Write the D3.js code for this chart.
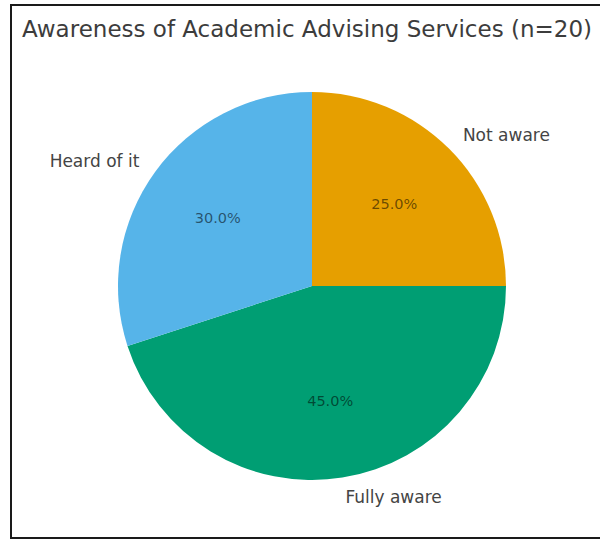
<!DOCTYPE html>
<html>
<head>
<meta charset="utf-8">
<script src="https://cdn.jsdelivr.net/npm/d3@7"></script>
<style>
  html, body { margin: 0; padding: 0; background: #fff; }
  svg { display: block; }
</style>
</head>
<body>
<svg id="chart" width="600" height="540"></svg>
<script>
// Survey responses on awareness of academic advising (n = 20)
const categories = ["Not aware", "Fully aware", "Heard of it"];
const counts = [5, 9, 6];
const colors = ["#E69F00", "#009E73", "#56B4E9"];
const titleText = "Awareness of Academic Advising Services (n=20)";

const svg = d3.select("#chart");
const W = 600, H = 540;
const cx = 312, cy = 286, r = 194;

svg.append("rect").attr("width", W).attr("height", H).attr("fill", "#fff");

// outer frame
svg.append("rect")
  .attr("x", 11).attr("y", 5)
  .attr("width", 620).attr("height", 533)
  .attr("fill", "none").attr("stroke", "#1a1a1a").attr("stroke-width", 2);

svg.append("text")
  .attr("x", 22).attr("y", 37)
  .attr("font-family", "DejaVu Sans, sans-serif")
  .attr("font-size", 23)
  .attr("fill", "#3c3c3c")
  .text(titleText);

const total = d3.sum(counts);
const data = categories.map((c, i) => ({ cat: c, value: counts[i], color: colors[i] }));

// clockwise from 12 o'clock, in the given order
const pie = d3.pie().value(d => d.value).sort(null);
const arcs = pie(data);
const arc = d3.arc().innerRadius(0).outerRadius(r);

const g = svg.append("g").attr("transform", `translate(${cx},${cy})`);

g.selectAll("path.slice")
  .data(arcs)
  .join("path")
  .attr("class", "slice")
  .attr("d", arc)
  .attr("fill", d => d.data.color);

const mid = d => (d.startAngle + d.endAngle) / 2;

// percentage labels inside slices
g.selectAll("text.pct")
  .data(arcs)
  .join("text")
  .attr("class", "pct")
  .attr("x", d => Math.sin(mid(d)) * r * 0.6)
  .attr("y", d => -Math.cos(mid(d)) * r * 0.6)
  .attr("text-anchor", "middle")
  .attr("dominant-baseline", "central")
  .attr("font-family", "DejaVu Sans, sans-serif")
  .attr("font-size", 14.5)
  .attr("fill", "#000")
  .attr("fill-opacity", 0.55)
  .text(d => (d.data.value / total * 100).toFixed(1) + "%");

// category labels outside the pie
g.selectAll("text.cat")
  .data(arcs)
  .join("text")
  .attr("class", "cat")
  .attr("x", d => Math.sin(mid(d)) * r * 1.1)
  .attr("y", d => -Math.cos(mid(d)) * r * 1.1)
  .attr("text-anchor", d => Math.sin(mid(d)) >= 0 ? "start" : "end")
  .attr("dominant-baseline", "central")
  .attr("font-family", "DejaVu Sans, sans-serif")
  .attr("font-size", 17)
  .attr("fill", "#444")
  .text(d => d.data.cat);
</script>
</body>
</html>
